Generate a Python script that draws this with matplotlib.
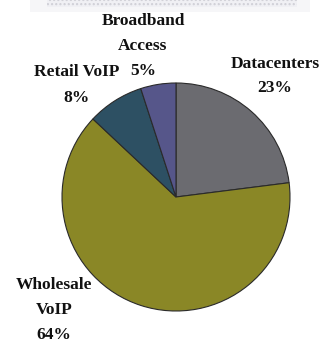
import matplotlib.pyplot as plt
from matplotlib.patches import Rectangle

# slice data (clockwise from 12 o'clock)
labels = ["Datacenters", "Wholesale\nVoIP", "Retail VoIP", "Broadband\nAccess"]
shares = [23, 64, 8, 5]
colors = ["#6b6b70", "#8a8726", "#2d5063", "#56568a"]

# label anchor points in pixel space (image y measured from top)
label_xy = [(275, 76), (54, 310), (77, 85), (143, 46)]

W, H = 321, 343
fig = plt.figure(figsize=(W / 100, H / 100), dpi=100)
ax = fig.add_axes([0, 0, 1, 1])

# faint hatched strip at the very top (cut-off title bar)
ax.add_patch(Rectangle((30, H - 12), 280, 12, facecolor="#f6f6f8", edgecolor="none"))
ax.add_patch(Rectangle((47, H - 7), 250, 7, facecolor="#f0f0f4", edgecolor="#cfcfd6",
                       hatch="....", linewidth=0))

wedges, _ = ax.pie(shares, colors=colors, startangle=90, counterclock=False,
                   center=(176, H - 197), radius=114, frame=True,
                   wedgeprops=dict(edgecolor="#2a2a2a", linewidth=0.8))
ax.set_xlim(0, W)
ax.set_ylim(0, H)
ax.set_aspect("equal")
ax.axis("off")

for lab, val, (x, y) in zip(labels, shares, label_xy):
    ax.text(x, H - y, lab + "\n" + str(val) + "%", ha="center", va="center",
            fontsize=12.5, fontweight="bold", family="Liberation Serif",
            linespacing=1.75, color="#111111")

fig.savefig("out.png", dpi=100)
